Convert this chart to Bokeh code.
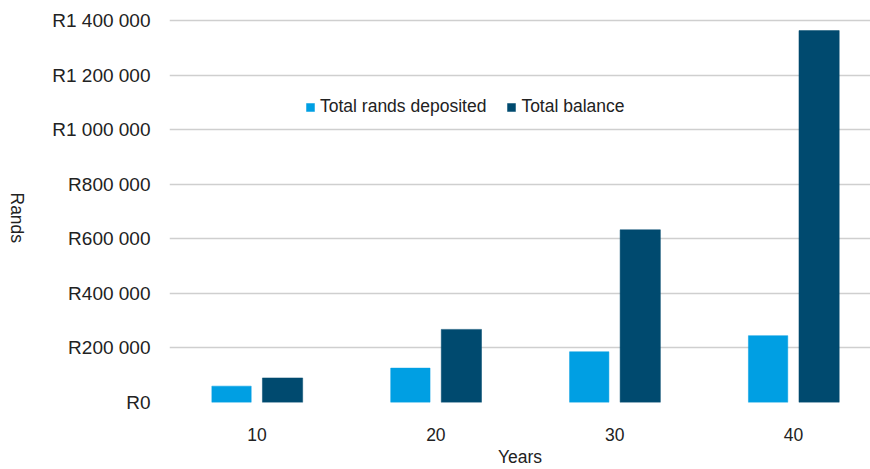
import math
from bokeh.plotting import figure
from bokeh.layouts import row
from bokeh.models import (ColumnDataSource, Range1d, FixedTicker, Legend, LegendItem, Label)
from bokeh.transform import dodge
from bokeh.embed import file_html
from bokeh.resources import INLINE

# ---- data ----
years = [10, 20, 30, 40]
year_labels = ["10", "20", "30", "40"]
deposited = [60000, 126000, 186000, 245000]
balance = [90000, 268000, 633000, 1363000]
y_ticks = [0, 200000, 400000, 600000, 800000, 1000000, 1200000, 1400000]
y_tick_labels = ["R0", "R200 000", "R400 000", "R600 000", "R800 000",
                 "R1 000 000", "R1 200 000", "R1 400 000"]
series_names = ["Total rands deposited", "Total balance"]
y_title = "Rands"
x_title = "Years"

LIGHT = "#009fe3"
DARK = "#004a6f"
TEXT = "#222222"
FONT = "Liberation Sans"

src = ColumnDataSource(data=dict(years=years, deposited=deposited, balance=balance))

# narrow strip holding the clockwise-rotated y-axis title
lab = figure(width=30, height=469, output_backend="svg", toolbar_location=None,
             x_range=Range1d(0, 30), y_range=Range1d(0, 469),
             min_border=0, min_border_left=0, min_border_right=0,
             min_border_top=0, min_border_bottom=0)
lab.axis.visible = False
lab.grid.visible = False
lab.outline_line_color = None
lab.background_fill_color = "white"
lab.border_fill_color = "white"
lab.add_layout(Label(x=16.5, y=221, text=y_title, angle=-math.pi / 2,
                     text_align="center", text_baseline="middle",
                     text_font=FONT, text_font_size="17.5px", text_color=TEXT))

p = figure(width=840, height=469, output_backend="svg", toolbar_location=None,
           x_range=Range1d(5.106, 44.30), y_range=Range1d(0, 1436700),
           min_border_left=139, min_border_right=0, min_border_top=10,
           min_border_bottom=67)
p.outline_line_color = None
p.background_fill_color = "white"
p.border_fill_color = "white"

r1 = p.vbar(x=dodge("years", -1.426), top="deposited", width=2.2, source=src,
            fill_color=LIGHT, line_color=LIGHT, line_width=0.5)
r2 = p.vbar(x=dodge("years", 1.426), top="balance", width=2.25, source=src,
            fill_color=DARK, line_color=DARK, line_width=0.5)

# x axis
xa = p.xaxis[0]
xa.ticker = FixedTicker(ticks=years)
xa.major_label_overrides = {y: l for y, l in zip(years, year_labels)}
xa.axis_line_color = None
xa.major_tick_line_color = None
xa.minor_tick_line_color = None
xa.major_tick_out = 0
xa.major_tick_in = 0
xa.major_label_standoff = 25
xa.major_label_text_font = FONT
xa.major_label_text_font_size = "17.5px"
xa.major_label_text_color = TEXT
xa.axis_label = x_title
xa.axis_label_text_font = FONT
xa.axis_label_text_font_size = "17.5px"
xa.axis_label_text_font_style = "normal"
xa.axis_label_text_color = TEXT
xa.axis_label_standoff = 3

# y axis
ya = p.yaxis[0]
ya.ticker = FixedTicker(ticks=y_ticks)
ya.major_label_overrides = {t: l for t, l in zip(y_ticks, y_tick_labels)}
ya.axis_line_color = None
ya.major_tick_line_color = None
ya.minor_tick_line_color = None
ya.major_tick_out = 0
ya.major_tick_in = 0
ya.major_label_standoff = 19
ya.major_label_text_font = FONT
ya.major_label_text_font_size = "19px"
ya.major_label_text_color = TEXT

p.xgrid.grid_line_color = None
p.ygrid.grid_line_color = "#cfcfcf"
p.ygrid.grid_line_width = 1.6

legend = Legend(items=[LegendItem(label=series_names[0], renderers=[r1]),
                       LegendItem(label=series_names[1], renderers=[r2])],
                orientation="horizontal", location=(136, 285),
                glyph_width=10, glyph_height=10, label_standoff=5, spacing=20,
                padding=0, margin=0, border_line_color=None,
                background_fill_alpha=0,
                label_text_font=FONT, label_text_font_size="17.5px",
                label_text_color=TEXT)
p.add_layout(legend, "center")

layout = row(lab, p, spacing=0)
open("out.html", "w").write(file_html(layout, INLINE))
